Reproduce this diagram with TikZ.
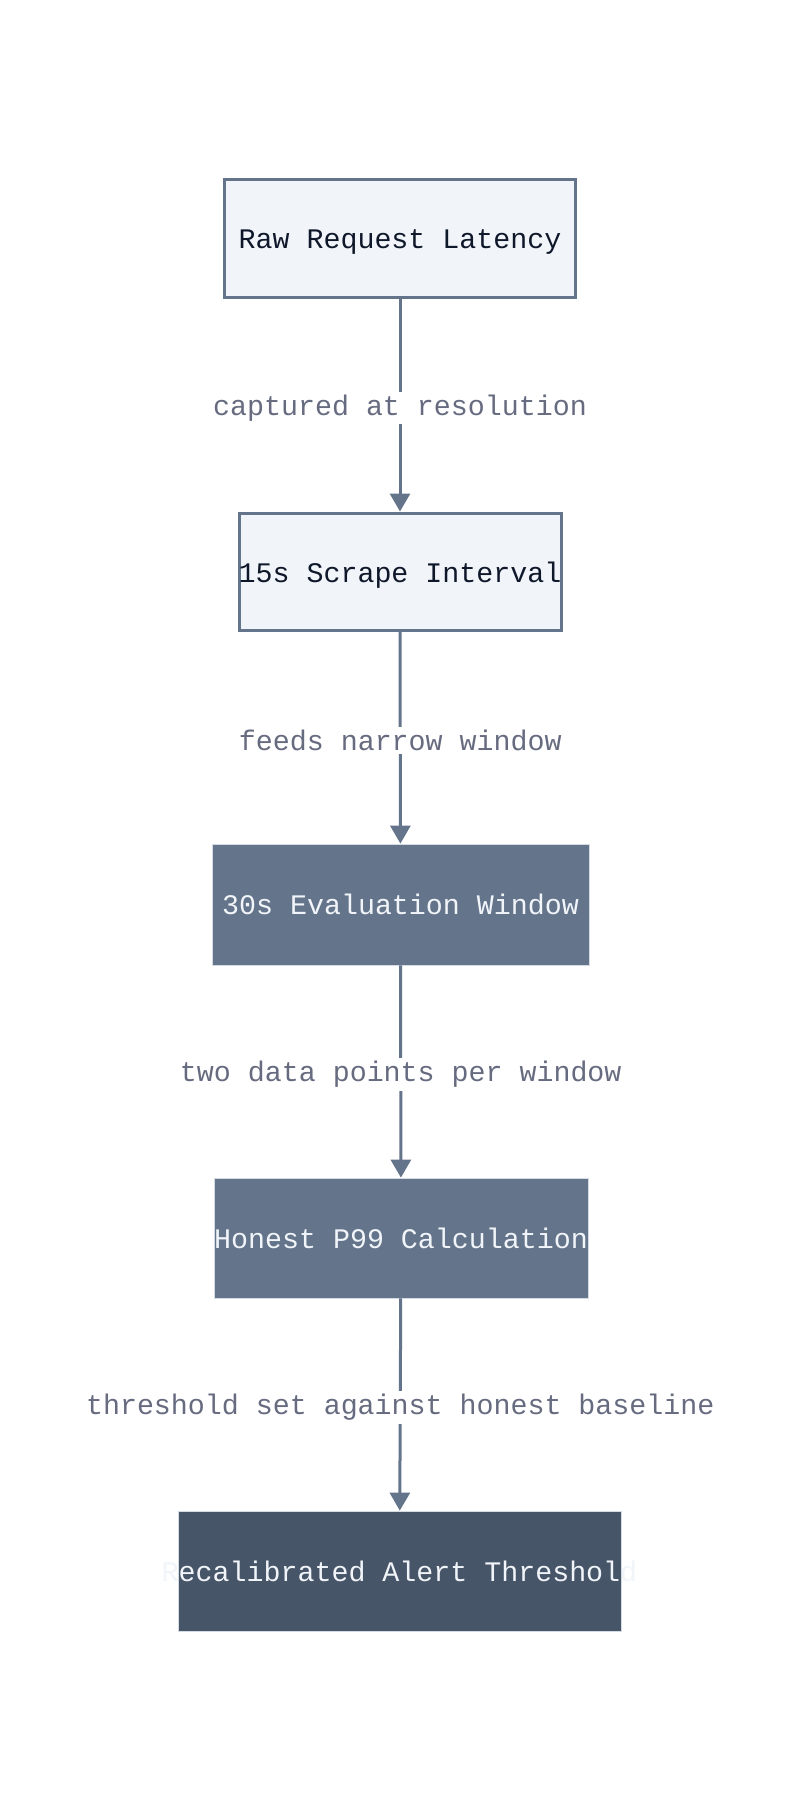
\documentclass[tikz,border=0pt]{standalone}
\usepackage{fontspec}
\setmonofont{Liberation Mono}
\usetikzlibrary{arrows.meta}
\definecolor{slate}{HTML}{64748B}
\definecolor{lblcol}{HTML}{676B80}
\definecolor{lightfill}{HTML}{F1F5F9}
\definecolor{darkfill}{HTML}{475569}
\definecolor{ink}{HTML}{0F172A}
\definecolor{paletext}{HTML}{F1F5F9}
\begin{document}
\begin{tikzpicture}[x=1pt,y=-1pt,
  lightbox/.style={draw=slate,line width=3pt,fill=lightfill,inner sep=0pt},
  midbox/.style={draw=lightfill!80!slate,line width=0.8pt,fill=slate,inner sep=0pt,text=paletext,
    font=\ttfamily\fontsize{28.3}{34}\selectfont},
  darkbox/.style={draw=lightfill!80!slate,line width=0.8pt,fill=darkfill,inner sep=0pt},
  inktext/.style={inner sep=0pt,text=ink,font=\ttfamily\fontsize{28.3}{34}\selectfont},
  boxtext/.style={inner sep=0pt,text=paletext,font=\ttfamily\fontsize{28.3}{34}\selectfont},
  lbl/.style={fill=white,inner sep=3pt,text=lblcol,yshift=-3pt,font=\ttfamily\fontsize{28.3}{34}\selectfont},
  flow/.style={draw=slate,line width=3pt,-{Triangle[length=18pt,width=20pt]}}
]
\useasboundingbox[fill=white] (0,0) rectangle (800,1810);
\node[lightbox,minimum width=351pt,minimum height=118pt] (n1) at (400,238) {};
\node[inktext] (t1) at ([yshift=-4pt]n1.center) {Raw Request Latency};
\node[lightbox,minimum width=322pt,minimum height=117pt] (n2) at (400,571.5) {};
\node[inktext] (t2) at ([yshift=-4pt]n2.center) {15s Scrape Interval};
\node[midbox,minimum width=377pt,minimum height=121pt] (n3) at (400.5,904.5) {30s Evaluation Window};
\node[midbox,minimum width=374pt,minimum height=120pt] (n4) at (401,1238) {Honest P99 Calculation};
\node[darkbox,minimum width=443pt,minimum height=120pt] (n5) at (399.5,1571) {};
\node[boxtext] (t5) at (n5.center) {Recalibrated Alert Threshold};
\draw[flow] (n1) -- (n2) node[midway,lbl] (l1) {captured at resolution};
\draw[flow] (n2) -- (n3) node[midway,lbl] (l2) {feeds narrow window};
\draw[flow] (n3) -- (n4) node[midway,lbl] (l3) {two data points per window};
\draw[flow] (n4) -- (n5) node[midway,lbl] (l4) {threshold set against honest baseline};
\end{tikzpicture}
\end{document}
